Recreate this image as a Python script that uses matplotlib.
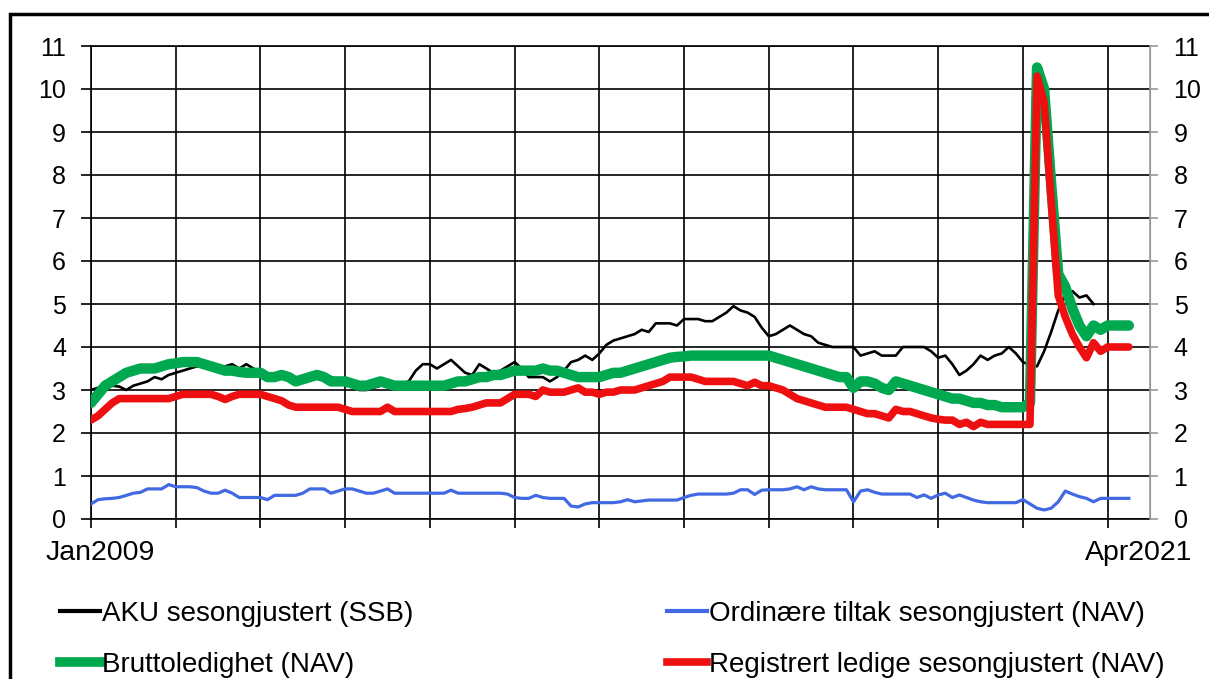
import numpy as np
import matplotlib.pyplot as plt
from matplotlib.patches import Rectangle
from matplotlib.lines import Line2D

plt.rcParams['font.family'] = ['Liberation Sans', 'DejaVu Sans']

# monthly values Jan 2009 - Apr 2021 (percent)
aku = [
    3.0, 3.05, 3.1, 3.1, 3.08, 3.0, 3.1, 3.15, 3.2, 3.3, 3.25, 3.35,      # 2009
    3.4, 3.45, 3.5, 3.55, 3.55, 3.6, 3.55, 3.55, 3.6, 3.5, 3.6, 3.5,      # 2010
    3.4, 3.3, 3.3, 3.3, 3.3, 3.25, 3.3, 3.35, 3.4, 3.35, 3.3, 3.25,       # 2011
    3.2, 3.15, 3.0, 3.0, 3.05, 3.1, 3.1, 3.1, 3.15, 3.2, 3.45, 3.6,       # 2012
    3.6, 3.5, 3.6, 3.7, 3.55, 3.4, 3.35, 3.6, 3.5, 3.4, 3.45, 3.55,       # 2013
    3.65, 3.5, 3.3, 3.3, 3.3, 3.2, 3.3, 3.45, 3.65, 3.7, 3.8, 3.7,        # 2014
    3.85, 4.05, 4.15, 4.2, 4.25, 4.3, 4.4, 4.35, 4.55, 4.55, 4.55, 4.5,   # 2015
    4.65, 4.65, 4.65, 4.6, 4.6, 4.7, 4.8, 4.95, 4.85, 4.8, 4.7, 4.45,     # 2016
    4.25, 4.3, 4.4, 4.5, 4.4, 4.3, 4.25, 4.1, 4.05, 4.0, 4.0, 4.0,        # 2017
    4.0, 3.8, 3.85, 3.9, 3.8, 3.8, 3.8, 4.0, 4.0, 4.0, 4.0, 3.9,          # 2018
    3.75, 3.8, 3.6, 3.35, 3.45, 3.6, 3.8, 3.7, 3.8, 3.85, 4.0, 3.85,      # 2019
    3.65, 3.58, 3.55, 3.9, 4.35, 4.85, 5.2, 5.3, 5.15, 5.2, 5.0, None,    # 2020
    None, None, None, None,                                               # 2021
]
tiltak = [
    0.35, 0.45, 0.47, 0.48, 0.5, 0.55, 0.6, 0.62, 0.7, 0.7, 0.7, 0.8,
    0.75, 0.75, 0.75, 0.73, 0.65, 0.6, 0.6, 0.67, 0.6, 0.5, 0.5, 0.5,
    0.5, 0.45, 0.55, 0.55, 0.55, 0.55, 0.6, 0.7, 0.7, 0.7, 0.6, 0.65,
    0.7, 0.7, 0.65, 0.6, 0.6, 0.65, 0.7, 0.6, 0.6, 0.6, 0.6, 0.6,
    0.6, 0.6, 0.6, 0.67, 0.6, 0.6, 0.6, 0.6, 0.6, 0.6, 0.6, 0.58,
    0.5, 0.48, 0.48, 0.55, 0.5, 0.48, 0.48, 0.48, 0.3, 0.28, 0.35, 0.38,
    0.38, 0.38, 0.38, 0.4, 0.45, 0.4, 0.42, 0.44, 0.44, 0.44, 0.44, 0.44,
    0.5, 0.55, 0.58, 0.58, 0.58, 0.58, 0.58, 0.6, 0.68, 0.68, 0.57, 0.67,
    0.68, 0.68, 0.68, 0.7, 0.75, 0.68, 0.75, 0.7, 0.68, 0.68, 0.68, 0.68,
    0.4, 0.65, 0.68, 0.62, 0.58, 0.58, 0.58, 0.58, 0.58, 0.5, 0.56, 0.48,
    0.56, 0.6, 0.5, 0.56, 0.5, 0.44, 0.4, 0.38, 0.38, 0.38, 0.38, 0.38,
    0.45, 0.35, 0.25, 0.21, 0.25, 0.4, 0.65, 0.58, 0.52, 0.48, 0.4, 0.48,
    0.48, 0.48, 0.48, 0.48,
]
brutto = [
    2.7, 2.9, 3.1, 3.2, 3.3, 3.4, 3.45, 3.5, 3.5, 3.5, 3.55, 3.6,
    3.62, 3.65, 3.65, 3.65, 3.6, 3.55, 3.5, 3.45, 3.45, 3.42, 3.4, 3.4,
    3.4, 3.3, 3.3, 3.35, 3.3, 3.2, 3.25, 3.3, 3.35, 3.3, 3.2, 3.2,
    3.2, 3.15, 3.1, 3.1, 3.15, 3.2, 3.15, 3.1, 3.1, 3.1, 3.1, 3.1,
    3.1, 3.1, 3.1, 3.15, 3.2, 3.2, 3.25, 3.3, 3.3, 3.35, 3.35, 3.4,
    3.45, 3.45, 3.45, 3.45, 3.5, 3.45, 3.45, 3.4, 3.35, 3.3, 3.3, 3.3,
    3.3, 3.35, 3.4, 3.4, 3.45, 3.5, 3.55, 3.6, 3.65, 3.7, 3.75, 3.77,
    3.78, 3.8, 3.8, 3.8, 3.8, 3.8, 3.8, 3.8, 3.8, 3.8, 3.8, 3.8,
    3.8, 3.75, 3.7, 3.65, 3.6, 3.55, 3.5, 3.45, 3.4, 3.35, 3.3, 3.3,
    3.05, 3.2, 3.2, 3.15, 3.05, 3.0, 3.2, 3.15, 3.1, 3.05, 3.0, 2.95,
    2.9, 2.85, 2.8, 2.8, 2.75, 2.7, 2.7, 2.65, 2.65, 2.6, 2.6, 2.6,
    2.6, 2.7, 10.5, 10.0, 7.8, 5.7, 5.4, 4.9, 4.5, 4.25, 4.5, 4.4,
    4.5, 4.5, 4.5, 4.5,
]
registrert = [
    2.3, 2.4, 2.55, 2.7, 2.8, 2.8, 2.8, 2.8, 2.8, 2.8, 2.8, 2.8,
    2.85, 2.9, 2.9, 2.9, 2.9, 2.9, 2.85, 2.78, 2.85, 2.9, 2.9, 2.9,
    2.9, 2.85, 2.8, 2.75, 2.65, 2.6, 2.6, 2.6, 2.6, 2.6, 2.6, 2.6,
    2.55, 2.5, 2.5, 2.5, 2.5, 2.5, 2.6, 2.5, 2.5, 2.5, 2.5, 2.5,
    2.5, 2.5, 2.5, 2.5, 2.55, 2.57, 2.6, 2.65, 2.7, 2.7, 2.7, 2.8,
    2.9, 2.9, 2.9, 2.85, 3.0, 2.95, 2.95, 2.95, 3.0, 3.05, 2.95, 2.95,
    2.9, 2.95, 2.95, 3.0, 3.0, 3.0, 3.05, 3.1, 3.15, 3.2, 3.3, 3.3,
    3.3, 3.3, 3.25, 3.2, 3.2, 3.2, 3.2, 3.2, 3.15, 3.1, 3.18, 3.1,
    3.1, 3.05, 3.0, 2.9, 2.8, 2.75, 2.7, 2.65, 2.6, 2.6, 2.6, 2.6,
    2.55, 2.5, 2.45, 2.45, 2.4, 2.35, 2.55, 2.5, 2.5, 2.45, 2.4, 2.35,
    2.32, 2.3, 2.3, 2.2, 2.25, 2.15, 2.25, 2.2, 2.2, 2.2, 2.2, 2.2,
    2.2, 2.2, 10.3, 9.7, 7.4, 5.2, 4.7, 4.3, 4.0, 3.75, 4.1, 3.9,
    4.0, 4.0, 4.0, 4.0,
]
labels = ["AKU sesongjustert (SSB)", "Bruttoledighet (NAV)",
          "Ordinære tiltak sesongjustert (NAV)", "Registrert ledige sesongjustert (NAV)"]
first_label, last_label = "Jan2009", "Apr2021"

months = np.arange(len(brutto))
aku = np.array([np.nan if v is None else v for v in aku])

fig = plt.figure(figsize=(12.09, 6.79), dpi=100)
ax = fig.add_axes([91/1209, 1-519/679, (1150-91)/1209, (519-46)/679])

c_black, c_blue, c_green, c_red = 'black', '#4169E1', '#00A84F', '#EE1010'
ax.plot(months, aku, color=c_black, lw=1.9, zorder=3)
ax.plot(months, tiltak, color=c_blue, lw=2.3, zorder=3)
ax.plot(months, brutto, color=c_green, lw=7.5, zorder=4, solid_capstyle='round')
ax.plot(months, registrert, color=c_red, lw=5.5, zorder=5, solid_capstyle='round')

ax.set_xlim(0, 150)
ax.set_ylim(0, 11)
ax.set_yticks(range(12))
ax.set_xticks(range(0, 145, 12))
ax.set_xticklabels([])
ax.grid(True, color='black', lw=1.2, zorder=1)
ax.tick_params(axis='y', length=7, width=1.2, pad=11, labelsize=18, color='black')
ax.tick_params(axis='x', length=6.5, width=1.2, color='black')
for s in ['left', 'bottom', 'top']:
    ax.spines[s].set_color('black')
    ax.spines[s].set_linewidth(1.2)
ax.spines['right'].set_color('#999999')

ax2 = ax.twinx()
ax2.set_ylim(0, 11)
ax2.set_yticks(range(12))
ax2.tick_params(axis='y', length=6, width=1.2, pad=11, labelsize=18, color='#999999')
for s in ['left', 'bottom', 'top']:
    ax2.spines[s].set_visible(False)
ax2.spines['right'].set_color('#999999')
ax2.spines['right'].set_linewidth(1.2)

fig.text(100/1209, 1-553/679, first_label, fontsize=20.5, ha='center', va='center')
fig.text(1139/1209, 1-553/679, last_label, fontsize=20.5, ha='center', va='center')

handles = [Line2D([], [], color=c_black, lw=3),
           Line2D([], [], color=c_green, lw=7),
           Line2D([], [], color=c_blue, lw=3),
           Line2D([], [], color=c_red, lw=5.5)]
fig.legend(handles, [labels[0], labels[1], labels[2], labels[3]], ncol=2,
           loc='upper left', bbox_to_anchor=(60/1209, 1-601/679), frameon=False,
           fontsize=20, handlelength=1.45, handletextpad=0.05, columnspacing=9.15,
           labelspacing=0.9, borderpad=0, borderaxespad=0)

fig.patches.append(Rectangle((10/1209, -0.05), 1.2, 1-14/679+0.05, transform=fig.transFigure,
                             fill=False, edgecolor='black', lw=2.5))

fig.savefig('out.png', dpi=100)
